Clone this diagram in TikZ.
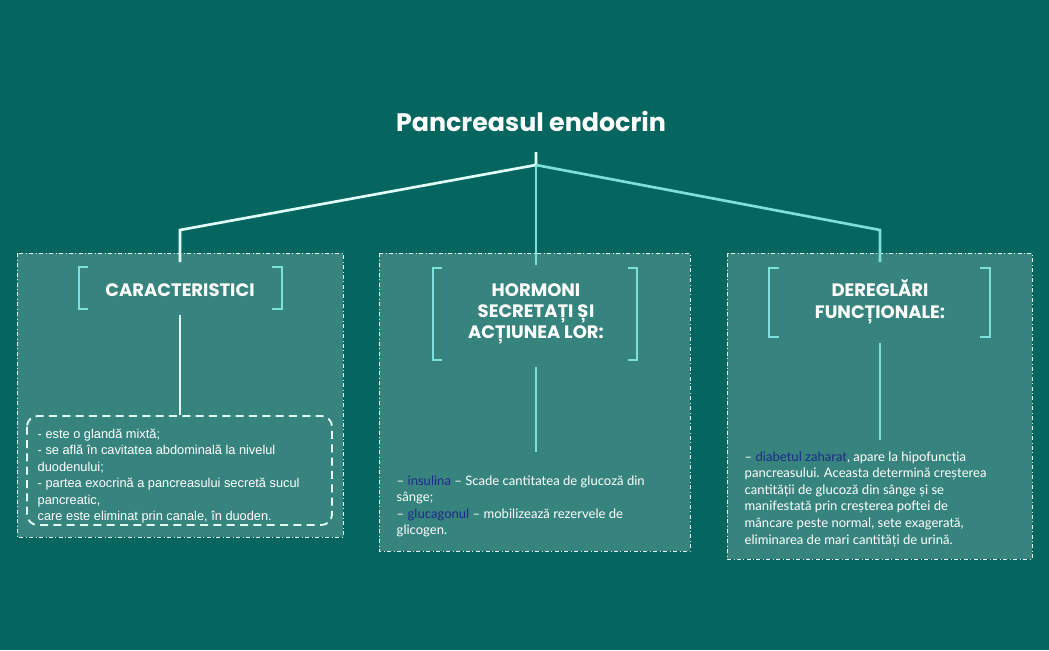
\documentclass[tikz,border=0pt]{standalone}
\usepackage{fontspec}
\setmainfont{Lato}
\newfontfamily\titlefont{Poppins}
\newfontfamily\arialf{Liberation Sans}
\definecolor{bg}{HTML}{05665F}
\definecolor{boxc}{HTML}{37847E}
\definecolor{wl}{HTML}{E0FFF8}
\definecolor{cy}{HTML}{7FE0DA}
\definecolor{nv}{HTML}{1E2A8A}
\begin{document}
\begin{tikzpicture}[x=0.75pt,y=-0.75pt,
  panel/.style={fill=boxc,draw=white!90!boxc,dash dot,line width=0.6pt},
  brk/.style={draw=cy,line width=2.2pt},
  conn/.style={line width=2pt},
  head/.style={text=white,font=\titlefont\bfseries\fontsize{13.5}{16}\selectfont,align=center},
  body/.style={text=white,font=\fontsize{9.8}{12.4}\selectfont,align=left,anchor=north west}]
\fill[bg] (0,0) rectangle (1049,650);
\useasboundingbox (0,0) rectangle (1049,650);
\node[text=white,font=\titlefont\bfseries\fontsize{19}{22}\selectfont] (title) at (531,121) {Pancreasul endocrin};
% panels
\draw[panel] (17,253) rectangle (343,537);
\draw[panel] (379,253) rectangle (690,551);
\draw[panel] (727,253) rectangle (1032,559);
% tree
\coordinate (hub) at (536,165);
\coordinate (top) at (536,152);
\coordinate (l1) at (180,230); \coordinate (l2) at (180,262);
\coordinate (r1) at (880,230); \coordinate (r2) at (880,262);
\coordinate (m2) at (536,265);
\draw[conn,wl] (top) -- (hub) -- (l1) -- (l2);
\draw[conn,cy] (hub) -- (m2);
\draw[conn,cy] (hub) -- (r1) -- (r2);
% brackets
\draw[brk] (88,267) -- (79,267) -- (79,309) -- (88,309);
\draw[brk] (272,267) -- (282,267) -- (282,309) -- (272,309);
\draw[brk] (442,268) -- (433,268) -- (433,360) -- (442,360);
\draw[brk] (628,268) -- (637,268) -- (637,360) -- (628,360);
\draw[brk] (779,268) -- (769,268) -- (769,337) -- (779,337);
\draw[brk] (980,268) -- (990,268) -- (990,337) -- (980,337);
\node[head] (h1) at (180,290) {CARACTERISTICI};
\node[head] (h2) at (536,314) {HORMONI\\SECRETAȚI ȘI\\ACȚIUNEA LOR:};
\node[head] (h3) at (880,302) {DEREGLĂRI\\FUNCȚIONALE:};
% inner connectors
\coordinate (a1) at (180,315); \coordinate (a2) at (180,415);
\coordinate (b1) at (536,367); \coordinate (b2) at (536,452);
\coordinate (c1) at (880,343); \coordinate (c2) at (880,440);
\draw[conn,wl] (a1) -- (a2);
\draw[conn,cy] (b1) -- (b2);
\draw[conn,cy] (c1) -- (c2);
% dashed rounded box
\draw[wl,dashed,line width=1.4pt,rounded corners=8pt,dash pattern=on 6pt off 4pt] (27,416) rectangle (332,525);
\node[body,font=\arialf\fontsize{9.6}{12.4}\selectfont] (t1) at (33,424) {- este o glandă mixtă;\\- se află în cavitatea abdominală la nivelul\\duodenului;\\- partea exocrină a pancreasului secretă sucul\\pancreatic,\\care este eliminat prin canale, în duoden.};
\node[body] (t2) at (392,471) {– \textcolor{nv}{insulina} – Scade cantitatea de glucoză din\\sânge;\\– \textcolor{nv}{glucagonul} – mobilizează rezervele de\\glicogen.};
\node[body] (t3) at (740,447) {– \textcolor{nv}{diabetul zaharat}, apare la hipofuncția\\pancreasului. Aceasta determină creșterea\\cantității de glucoză din sânge și se\\manifestată prin creșterea poftei de\\mâncare peste normal, sete exagerată,\\eliminarea de mari cantități de urină.};
\end{tikzpicture}
\end{document}
